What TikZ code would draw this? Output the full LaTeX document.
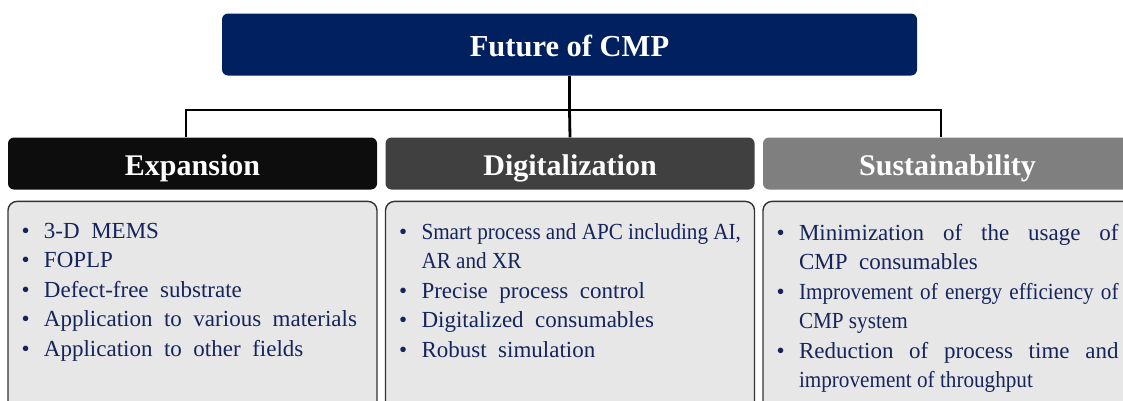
\documentclass[tikz,border=0pt]{standalone}
\usepackage{fontspec}
\setmainfont{Liberation Serif}
\newfontfamily\tightserif[FakeStretch=0.92]{Liberation Serif}
\usetikzlibrary{positioning,calc}

\definecolor{cmpnavy}{RGB}{0,32,96}
\definecolor{itemnavy}{RGB}{22,36,92}
\definecolor{headA}{RGB}{13,13,13}
\definecolor{headB}{RGB}{64,64,64}
\definecolor{headC}{RGB}{127,127,127}
\definecolor{panel}{RGB}{231,231,231}
\definecolor{panelrim}{RGB}{50,50,50}

% one bullet line with hanging indent and wide word gaps
\newcommand{\bulitem}[1]{\par\spaceskip=0.5em plus 1em minus 0.1em\relax
  \hangindent=22.5pt\hangafter=1\noindent\makebox[22.5pt][l]{\textbullet}#1}
% narrower face for the long lines
\newcommand{\tight}[1]{{\tightserif\spaceskip=0pt #1}}

\begin{document}
\begin{tikzpicture}[x=1pt, y=-1pt, node distance=11pt,
  every node/.style={inner sep=0pt},
  toptitle/.style={rectangle, rounded corners=6pt, fill=cmpnavy, text=white, minimum width=695pt, minimum height=62pt, text height=23pt, text depth=0pt, font=\fontsize{30.5}{34}\selectfont\bfseries},
  head/.style={rectangle, rounded corners=6pt, text=white, minimum width=369pt, minimum height=52pt, text height=24pt, text depth=0pt, font=\fontsize{30}{34}\selectfont\bfseries},
  panelbox/.style={rectangle, rounded corners=9pt, draw=panelrim, line width=1.4pt, fill=panel, minimum width=369pt, minimum height=230pt},
  items/.style={anchor=base west, text width=342pt, text=itemnavy, font=\fontsize{23}{29.5}\selectfont, align=left},
  link/.style={line width=2.8pt, black}]

\useasboundingbox (0,0) rectangle (1123,400);
\clip (0,0) rectangle (1123,400);

% Top
\node[toptitle] (future) at (569.5,44.5) {Future of CMP};

% Three branches
\node[head, fill=headA] (expansion) at (192.5,163.5) {Expansion};
\node[head, fill=headB] (digital) at (570,163.5) {Digitalization};
\node[head, fill=headC] (sustain) at (947.5,163.5) {Sustainability};

\node[panelbox, below=of expansion] (expbody) {};
\node[panelbox, below=of digital] (digbody) {};
\node[panelbox, below=of sustain] (susbody) {};

% Lists
\node[items] (explist) at ($(expbody.north west)+(14,8)$) {%
  \bulitem{3-D MEMS}
  \bulitem{FOPLP}
  \bulitem{Defect-free substrate}
  \bulitem{Application to various materials}
  \bulitem{Application to other fields}\par};
\node[items] (diglist) at ($(digbody.north west)+(14,9)$) {%
  \bulitem{\tight{Smart process and APC including AI,\newline AR and XR}}
  \bulitem{Precise process control}
  \bulitem{Digitalized consumables}
  \bulitem{Robust simulation}\par};
\node[items, align=justify] (suslist) at ($(susbody.north west)+(14,10)$) {%
  \bulitem{Minimization of the usage of\linebreak CMP consumables}
  \bulitem{\tight{Improvement of energy efficiency of\linebreak CMP system}}
  \bulitem{Reduction of process time and\linebreak \tight{improvement of throughput}}\par};

% Tree lines
\coordinate (bus) at (569.5,110);
\draw[link] (future.south) -- (bus);
\draw[link] ([xshift=-6.5pt]expansion.north) |- (bus) -| ([xshift=-6.5pt]sustain.north);
\draw[link] (bus) -- (digital.north);

\end{tikzpicture}
\end{document}
